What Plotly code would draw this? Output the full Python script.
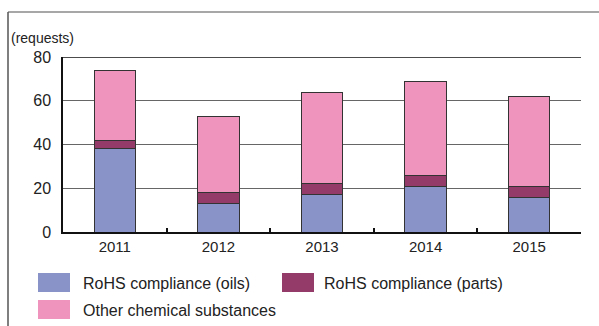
import plotly.graph_objects as go

years = ["2011", "2012", "2013", "2014", "2015"]
oils = [38, 13, 17, 21, 16]
parts = [4, 5, 5, 5, 5]
other = [32, 35, 42, 43, 41]
series_names = ["RoHS compliance (oils)", "RoHS compliance (parts)", "Other chemical substances"]
colors = ["#8A93C8", "#943B69", "#EE94BD"]
y_ticks = [0, 20, 40, 60, 80]

W, H = 599, 326
L, R, T, B = 63, 581, 57, 232

def px(x):
    return (x - L) / (R - L)

def py(y):
    return (B - y) / (B - T)

fig = go.Figure()
for name, vals, c in zip(series_names, [oils, parts, other], colors):
    fig.add_trace(go.Bar(x=years, y=vals, name=name, marker=dict(color=c, line=dict(color="#333333", width=1)),
                         showlegend=False))

shapes = []
# outer frame
shapes.append(dict(type="line", xref="paper", yref="paper", x0=px(8), x1=px(599), y0=py(12), y1=py(12),
                   line=dict(color="#8a8a8a", width=1.5)))
shapes.append(dict(type="line", xref="paper", yref="paper", x0=px(8), x1=px(8), y0=py(12), y1=py(326),
                   line=dict(color="#555555", width=1.5)))
# top line at 80
shapes.append(dict(type="line", xref="paper", yref="y", x0=0, x1=1, y0=80, y1=80,
                   line=dict(color="#111111", width=1.5)))

annotations = [dict(text="(requests)", xref="paper", yref="paper", x=px(9), y=py(38), xanchor="left",
                    yanchor="middle", showarrow=False, font=dict(size=14, color="#222222"))]

legend_pos = [(38, 273, 81), (282, 273, 322), (38, 300, 81)]
for (sx, sy, tx), name, c in zip(legend_pos, series_names, colors):
    shapes.append(dict(type="rect", xref="paper", yref="paper", x0=px(sx), x1=px(sx + 32),
                       y0=py(sy), y1=py(sy + 19), fillcolor=c, line=dict(width=0)))
    annotations.append(dict(text=name, xref="paper", yref="paper", x=px(tx), y=py(sy + 10),
                            xanchor="left", yanchor="middle", showarrow=False,
                            font=dict(size=16, color="#222222")))

fig.update_layout(
    width=W, height=H,
    margin=dict(l=L, r=W - R, t=T, b=H - B),
    barmode="stack", bargap=0.6,
    plot_bgcolor="white", paper_bgcolor="white",
    font=dict(family="Liberation Sans, Arial, sans-serif", color="#222222"),
    shapes=shapes, annotations=annotations,
    xaxis=dict(showline=True, linecolor="#111111", linewidth=1.5, ticks="inside", tickson="boundaries",
               ticklen=4, tickcolor="#111111", tickwidth=2, showgrid=False, tickfont=dict(size=15)),
    yaxis=dict(range=[0, 80], tickvals=y_ticks, showline=True, linecolor="#111111", linewidth=1.5,
               gridcolor="#666666", gridwidth=1, ticks="", tickfont=dict(size=16), zeroline=False,
               ticklabelstandoff=7),
)
fig.write_html("out.html")
